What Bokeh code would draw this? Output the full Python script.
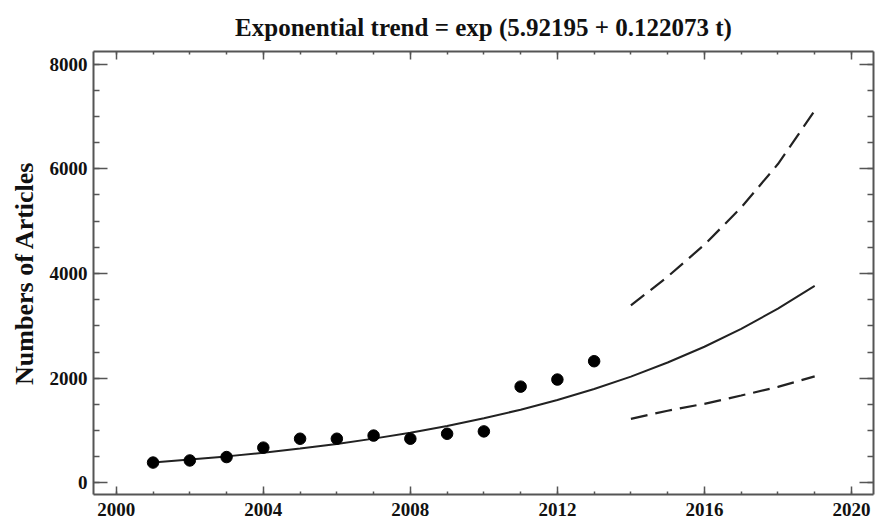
from bokeh.plotting import figure
from bokeh.models import Range1d, LinearAxis, SingleIntervalTicker, Title, CustomJSTickFormatter
from bokeh.embed import file_html
from bokeh.resources import INLINE

# observed data
years = [2001, 2002, 2003, 2004, 2005, 2006, 2007, 2008, 2009, 2010, 2011, 2012, 2013]
articles = [390, 430, 495, 675, 845, 845, 905, 845, 940, 985, 1840, 1975, 2325]

# exponential trend
trend_years = [2001, 2002, 2003, 2004, 2005, 2006, 2007, 2008, 2009, 2010,
               2011, 2012, 2013, 2014, 2015, 2016, 2017, 2018, 2019]
trend = [392, 447, 508, 578, 657, 746, 847, 961, 1090, 1235,
         1400, 1585, 1795, 2032, 2300, 2602, 2944, 3330, 3765]

# forecast limits
fc_years = [2014, 2015, 2016, 2017, 2018, 2019]
upper = [3390, 3940, 4550, 5260, 6090, 7110]
lower = [1225, 1380, 1512, 1670, 1835, 2035]

title_text = "Exponential trend = exp (5.92195 + 0.122073 t)"
y_label = "Numbers of Articles"

SERIF = "Liberation Serif"
AX = "#555555"

p = figure(frame_width=780, frame_height=443, output_backend="svg",
           toolbar_location=None, min_border_left=93, min_border_right=5,
           min_border_top=51, min_border_bottom=30,
           x_range=Range1d(1999.38, 2020.6), y_range=Range1d(-220, 8240),
           x_axis_type=None, y_axis_type=None)
p.title = Title(text=title_text, align="center", text_font=SERIF,
                text_font_size="25px", text_font_style="bold", text_color="#111111",
                standoff=22)
p.outline_line_color = None
p.grid.visible = False
p.background_fill_color = "white"
p.border_fill_color = "white"

blank = CustomJSTickFormatter(code="return ''")

def style_common(ax):
    ax.major_tick_out = 0
    ax.minor_tick_out = 0
    ax.axis_line_color = AX
    ax.axis_line_width = 2
    ax.major_tick_line_color = AX
    ax.minor_tick_line_color = AX
    ax.major_tick_line_width = 1.5
    ax.minor_tick_line_width = 1.5

def make_x(labels):
    ax = LinearAxis(ticker=SingleIntervalTicker(interval=4, num_minor_ticks=4))
    style_common(ax)
    ax.major_tick_in = 8
    ax.minor_tick_in = 3
    if labels:
        ax.major_label_text_font = SERIF
        ax.major_label_text_font_style = "bold"
        ax.major_label_text_font_size = "19px"
        ax.major_label_text_color = "#111111"
        ax.major_label_standoff = 8
    else:
        ax.formatter = blank
        ax.major_label_standoff = 0
    return ax

def make_y(labels):
    ax = LinearAxis(ticker=SingleIntervalTicker(interval=2000, num_minor_ticks=4))
    style_common(ax)
    ax.major_tick_in = 14
    ax.minor_tick_in = 6
    if labels:
        ax.major_label_text_font = SERIF
        ax.major_label_text_font_style = "bold"
        ax.major_label_text_font_size = "19px"
        ax.major_label_text_color = "#111111"
        ax.major_label_standoff = 6
        ax.axis_label = y_label
        ax.axis_label_text_font = SERIF
        ax.axis_label_text_font_style = "bold"
        ax.axis_label_text_font_size = "26px"
        ax.axis_label_text_color = "#111111"
        ax.axis_label_standoff = 8
    else:
        ax.formatter = blank
        ax.major_label_standoff = 0
    return ax

p.add_layout(make_x(True), "below")
p.add_layout(make_x(False), "above")
p.add_layout(make_y(True), "left")
p.add_layout(make_y(False), "right")

p.line(trend_years, trend, line_color="#222222", line_width=2)
p.line(fc_years, upper, line_color="#222222", line_width=2.2, line_dash="17 8")
p.line(fc_years, lower, line_color="#222222", line_width=2.2, line_dash="17 8")
p.scatter(years, articles, size=11.5, fill_color="black", line_color="black")

open("out.html", "w").write(file_html(p, INLINE))
